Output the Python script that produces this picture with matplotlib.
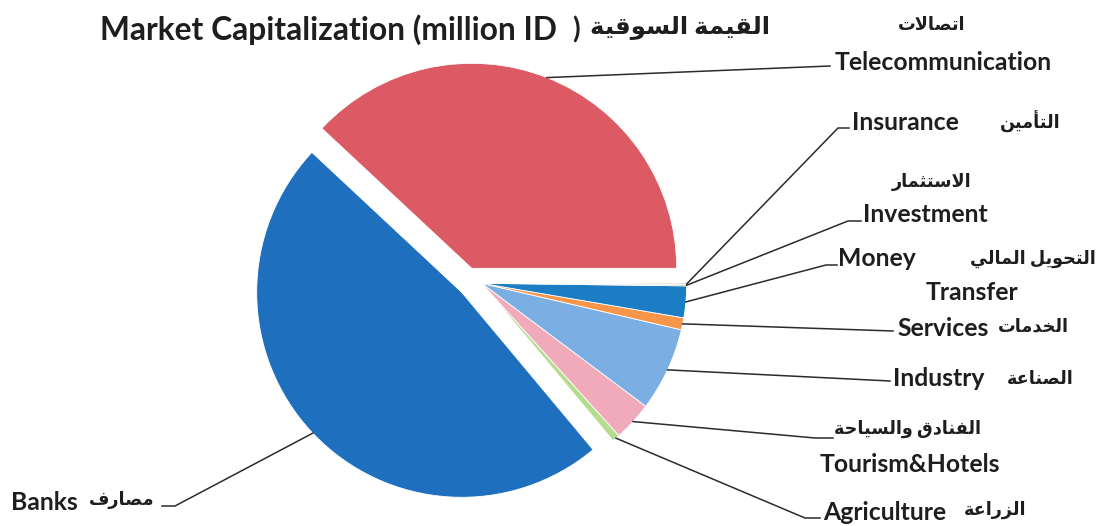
import unicodedata
import numpy as np
import matplotlib
matplotlib.use("Agg")
import matplotlib.pyplot as plt

plt.rcParams['font.family'] = ['Lato', 'DejaVu Sans']

# --- data (share of market capitalization, %) ---
sectors = ["Telecommunication", "Banks", "Agriculture", "Tourism&Hotels", "Industry",
           "Services", "Money Transfer", "Investment", "Insurance"]
sectors_ar = ["اتصالات", "مصارف", "الزراعة", "الفنادق والسياحة", "الصناعة",
              "الخدمات", "التحويل المالي", "الاستثمار", "التأمين"]
shares = [38.1, 48.1, 0.6, 3.1, 6.6, 0.95, 2.5, 0.1, 0.1]
colors = ["#DC5A64", "#1F6FBF", "#B5DC8F", "#F0AAB9", "#7BAEE3",
          "#F7964A", "#1B7DC3", "#8DB255", "#8C8C8C"]
title_en = "Market Capitalization (million ID"
title_ar = "القيمة السوقية"


def _form(ch, kind):
    try:
        return unicodedata.lookup(f"{unicodedata.name(ch, '')} {kind} FORM")
    except KeyError:
        return None


ALEFS = {"\u0627": "ALEF", "\u0623": "ALEF WITH HAMZA ABOVE",
         "\u0625": "ALEF WITH HAMZA BELOW", "\u0622": "ALEF WITH MADDA ABOVE"}


def ar(text):
    # matplotlib does no arabic shaping -> pick presentation forms, reverse
    units = []
    i = 0
    while i < len(text):
        if text[i] == "\u0644" and i + 1 < len(text) and text[i + 1] in ALEFS:
            units.append(("lig", ALEFS[text[i + 1]]))
            i += 2
        else:
            units.append(("ch", text[i]))
            i += 1

    def fwd(u):
        return u[0] == "ch" and _form(u[1], "INITIAL") is not None

    def back(u):
        return u[0] == "lig" or _form(u[1], "FINAL") is not None

    out = []
    for k, u in enumerate(units):
        p = k > 0 and fwd(units[k - 1]) and back(u)
        n = k + 1 < len(units) and fwd(u) and back(units[k + 1])
        if u[0] == "lig":
            kind = "FINAL" if p else "ISOLATED"
            out.append(unicodedata.lookup(f"ARABIC LIGATURE LAM WITH {u[1]} {kind} FORM"))
            continue
        kind = "MEDIAL" if p and n else "FINAL" if p else "INITIAL" if n else "ISOLATED"
        out.append(_form(u[1], kind) or u[1])
    return "".join(reversed(out))


W, H = 1104, 526
cx, cy, R = 481.7, 283.3, 205   # pie centre in image pixels (y from top)


def P(x, y):
    return x, H - y


fig = plt.figure(figsize=(W / 100, H / 100), dpi=100)
ax = fig.add_axes([0, 0, 1, 1])
wedges, _ = ax.pie(shares, colors=colors, startangle=0, counterclock=True,
                   center=P(cx, cy), radius=R,
                   wedgeprops=dict(edgecolor="white", linewidth=0.6))
# pulled-out slices
wedges[0].set_center(P(cx - 10, cy - 15))
wedges[1].set_center(P(cx - 20, cy + 9))
ax.set_xlim(0, W)
ax.set_ylim(0, H)
ax.axis("off")

# leader lines: from slice arc to label (image px)
leaders = {
    "Telecommunication": [(830, 66)],
    "Banks": [(175, 506), (162, 506)],
    "Agriculture": [(805, 518), (820, 518)],
    "Tourism&Hotels": [(815, 438), (833, 438)],
    "Industry": [(890, 381)],
    "Services": [(893, 331)],
    "Money Transfer": [(826, 265), (837, 265)],
    "Investment": [(848, 221), (861, 221)],
    "Insurance": [(838, 128), (849, 128)],
}
for w, name in zip(wedges, sectors):
    th = np.deg2rad((w.theta1 + w.theta2) / 2)
    x0, y0 = w.center
    xs = [x0 + R * np.cos(th)] + [p[0] for p in leaders[name]]
    ys = [y0 + R * np.sin(th)] + [H - p[1] for p in leaders[name]]
    ax.plot(xs, ys, color="#2b2b2b", lw=1.1)

ink = "#1e1e1e"
fs_en, fs_ar = 17.8, 12.7
en_pos = {
    "Telecommunication": (835, 62, "left"),
    "Insurance": (852, 123, "left"),
    "Investment": (863, 215, "left"),
    "Money": (838, 259, "left"),
    "Transfer": (972, 292, "center"),
    "Services": (897, 328, "left"),
    "Industry": (893, 379, "left"),
    "Tourism&Hotels": (910, 464, "center"),
    "Agriculture": (823, 512, "left"),
    "Banks": (11, 502, "left"),
}
for txt, (x, y, ha) in en_pos.items():
    ax.text(*P(x, y), txt, ha=ha, va="center", fontsize=fs_en,
            fontweight="bold", color=ink)

ar_pos = [(932, 25), (122, 500), (995, 510), (907, 429), (1040, 378),
          (1033, 326), (1033, 259), (932, 182), (1030, 122)]
for txt, (x, y) in zip(sectors_ar, ar_pos):
    ax.text(*P(x, y), ar(txt), ha="center", va="center", fontsize=fs_ar,
            fontweight="bold", color=ink)

# title: english part, paren, arabic part
ax.text(*P(100, 30), title_en, ha="left", va="center",
        fontsize=22.9, fontweight="bold", color=ink)
ax.text(*P(576, 30), ")", ha="center", va="center",
        fontsize=20, fontweight="bold", color=ink)
ax.text(*P(770, 27), ar(title_ar), ha="right", va="center",
        fontsize=17.6, fontweight="bold", color=ink)

fig.savefig("out.png", dpi=100)
